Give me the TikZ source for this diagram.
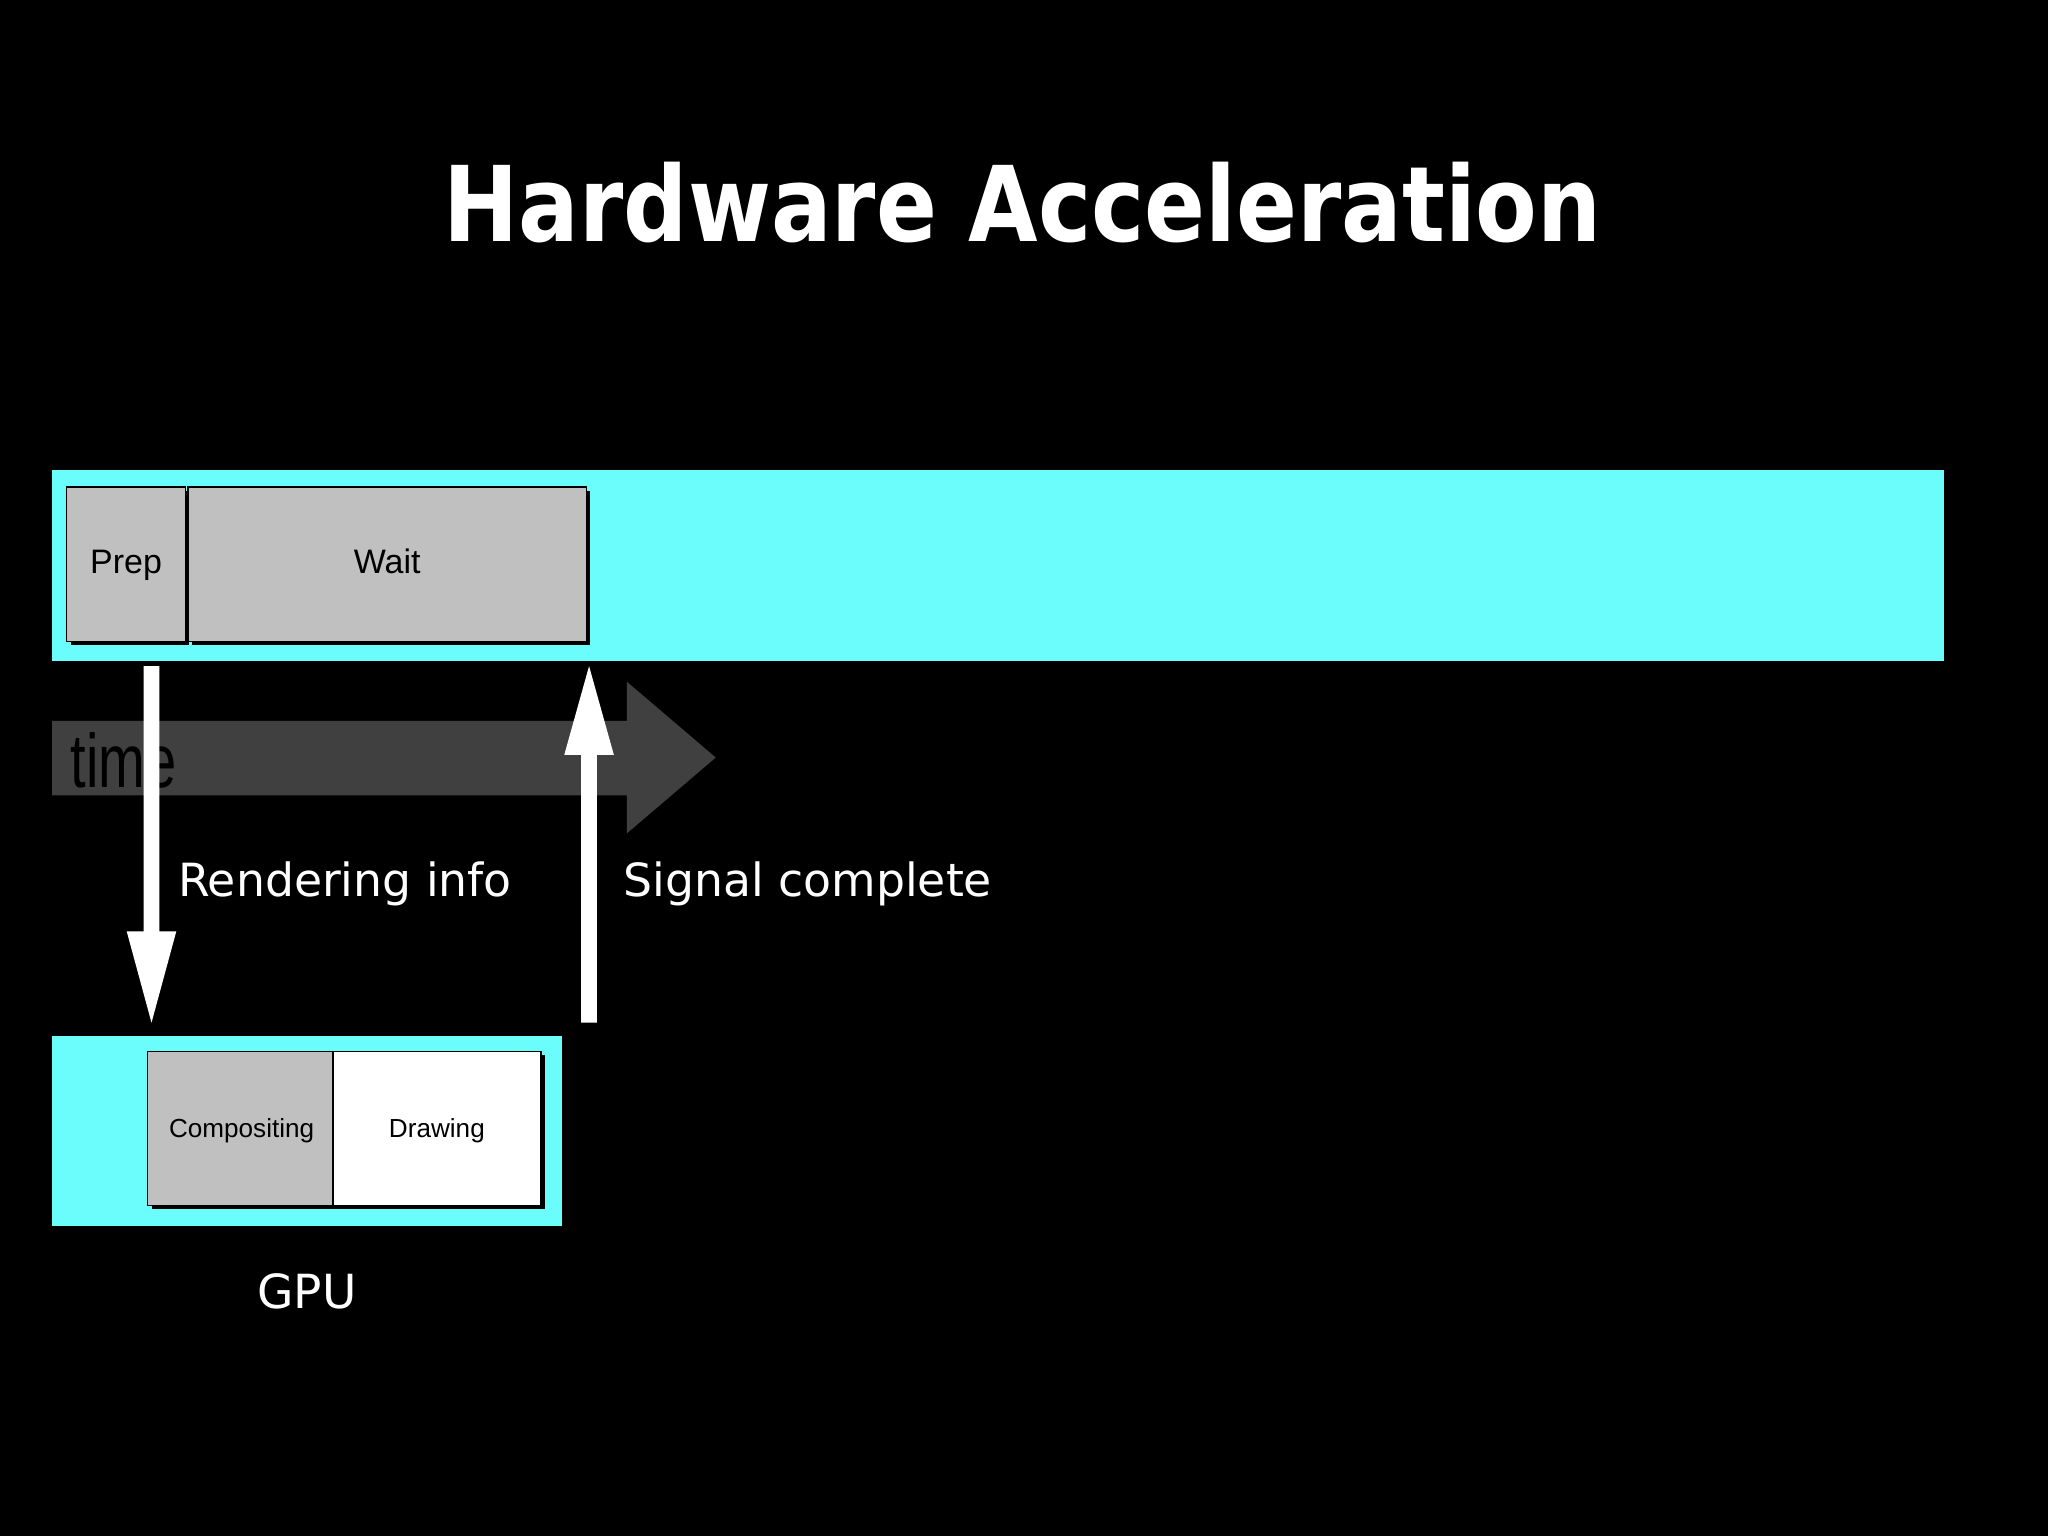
\documentclass[tikz,border=0pt]{standalone}
\usepackage{fontspec}
\setmainfont{DejaVu Sans}
\newfontfamily\arialf{Liberation Sans}
\definecolor{cy}{HTML}{6BFCFC}
\definecolor{gr}{HTML}{C0C0C0}
\definecolor{dk}{HTML}{404040}
\begin{document}
\begin{tikzpicture}[x=0.5pt,y=-0.5pt,
  box/.style={draw=black,line width=0.6pt},
  shadow/.style={fill=black},
  wtext/.style={text=white,inner sep=0}]
\fill[black] (0,0) rectangle (1568,1176);
\useasboundingbox (0,0) rectangle (1568,1176);
\node[wtext,xscale=0.86,font=\bfseries\fontsize{40}{46}\selectfont] (title) at (783,155) {Hardware Acceleration};
% CPU bar
\fill[cy] (40,360) rectangle (1488,506);
\fill[shadow] (54,376) rectangle (145,494);
\fill[shadow] (147,376) rectangle (452,494);
\filldraw[box,fill=gr] (51,373) rectangle (142,491);
\filldraw[box,fill=gr] (144,373) rectangle (449,491);
\node[inner sep=0,text height=1.5ex,text depth=0.4ex,font=\arialf\fontsize{13}{15}\selectfont] (prep) at (96.5,433) {Prep};
\node[inner sep=0,text height=1.5ex,text depth=0.4ex,font=\arialf\fontsize{13}{15}\selectfont] (wait) at (296.5,433) {Wait};
% time arrow
\fill[dk] (40,552) -- (480,552) -- (480,522) -- (548,580) -- (480,638) -- (480,609) -- (40,609) -- cycle;
\node[inner sep=0,anchor=west,xscale=0.74,font=\arialf\fontsize{29}{30}\selectfont] (time) at (54,582) {time};
% arrows
\fill[white] (110,510) -- (122,510) -- (122,713) -- (135,713) -- (116,783) -- (97,713) -- (110,713) -- cycle;
\fill[white] (445,783) -- (457,783) -- (457,578) -- (470,578) -- (451,510) -- (432,578) -- (445,578) -- cycle;
\node[wtext,anchor=west,font=\fontsize{17.5}{21}\selectfont] (rinfo) at (136,677) {Rendering info};
\node[wtext,anchor=west,font=\fontsize{17.5}{21}\selectfont] (sig) at (477,677) {Signal complete};
% GPU
\fill[cy] (40,793) rectangle (430,939);
\fill[shadow] (116,808) rectangle (417,926);
\filldraw[box,fill=gr] (113,805) rectangle (255,923);
\filldraw[box,fill=white] (255,805) rectangle (414,923);
\node[inner sep=0,text height=1.5ex,text depth=0.4ex,font=\arialf\fontsize{10}{12}\selectfont] (comp) at (185,865) {Compositing};
\node[inner sep=0,text height=1.5ex,text depth=0.4ex,font=\arialf\fontsize{10}{12}\selectfont] (draw) at (334.5,865) {Drawing};
\node[wtext,font=\fontsize{18}{22}\selectfont] (gpu) at (235,989) {GPU};
\end{tikzpicture}
\end{document}
